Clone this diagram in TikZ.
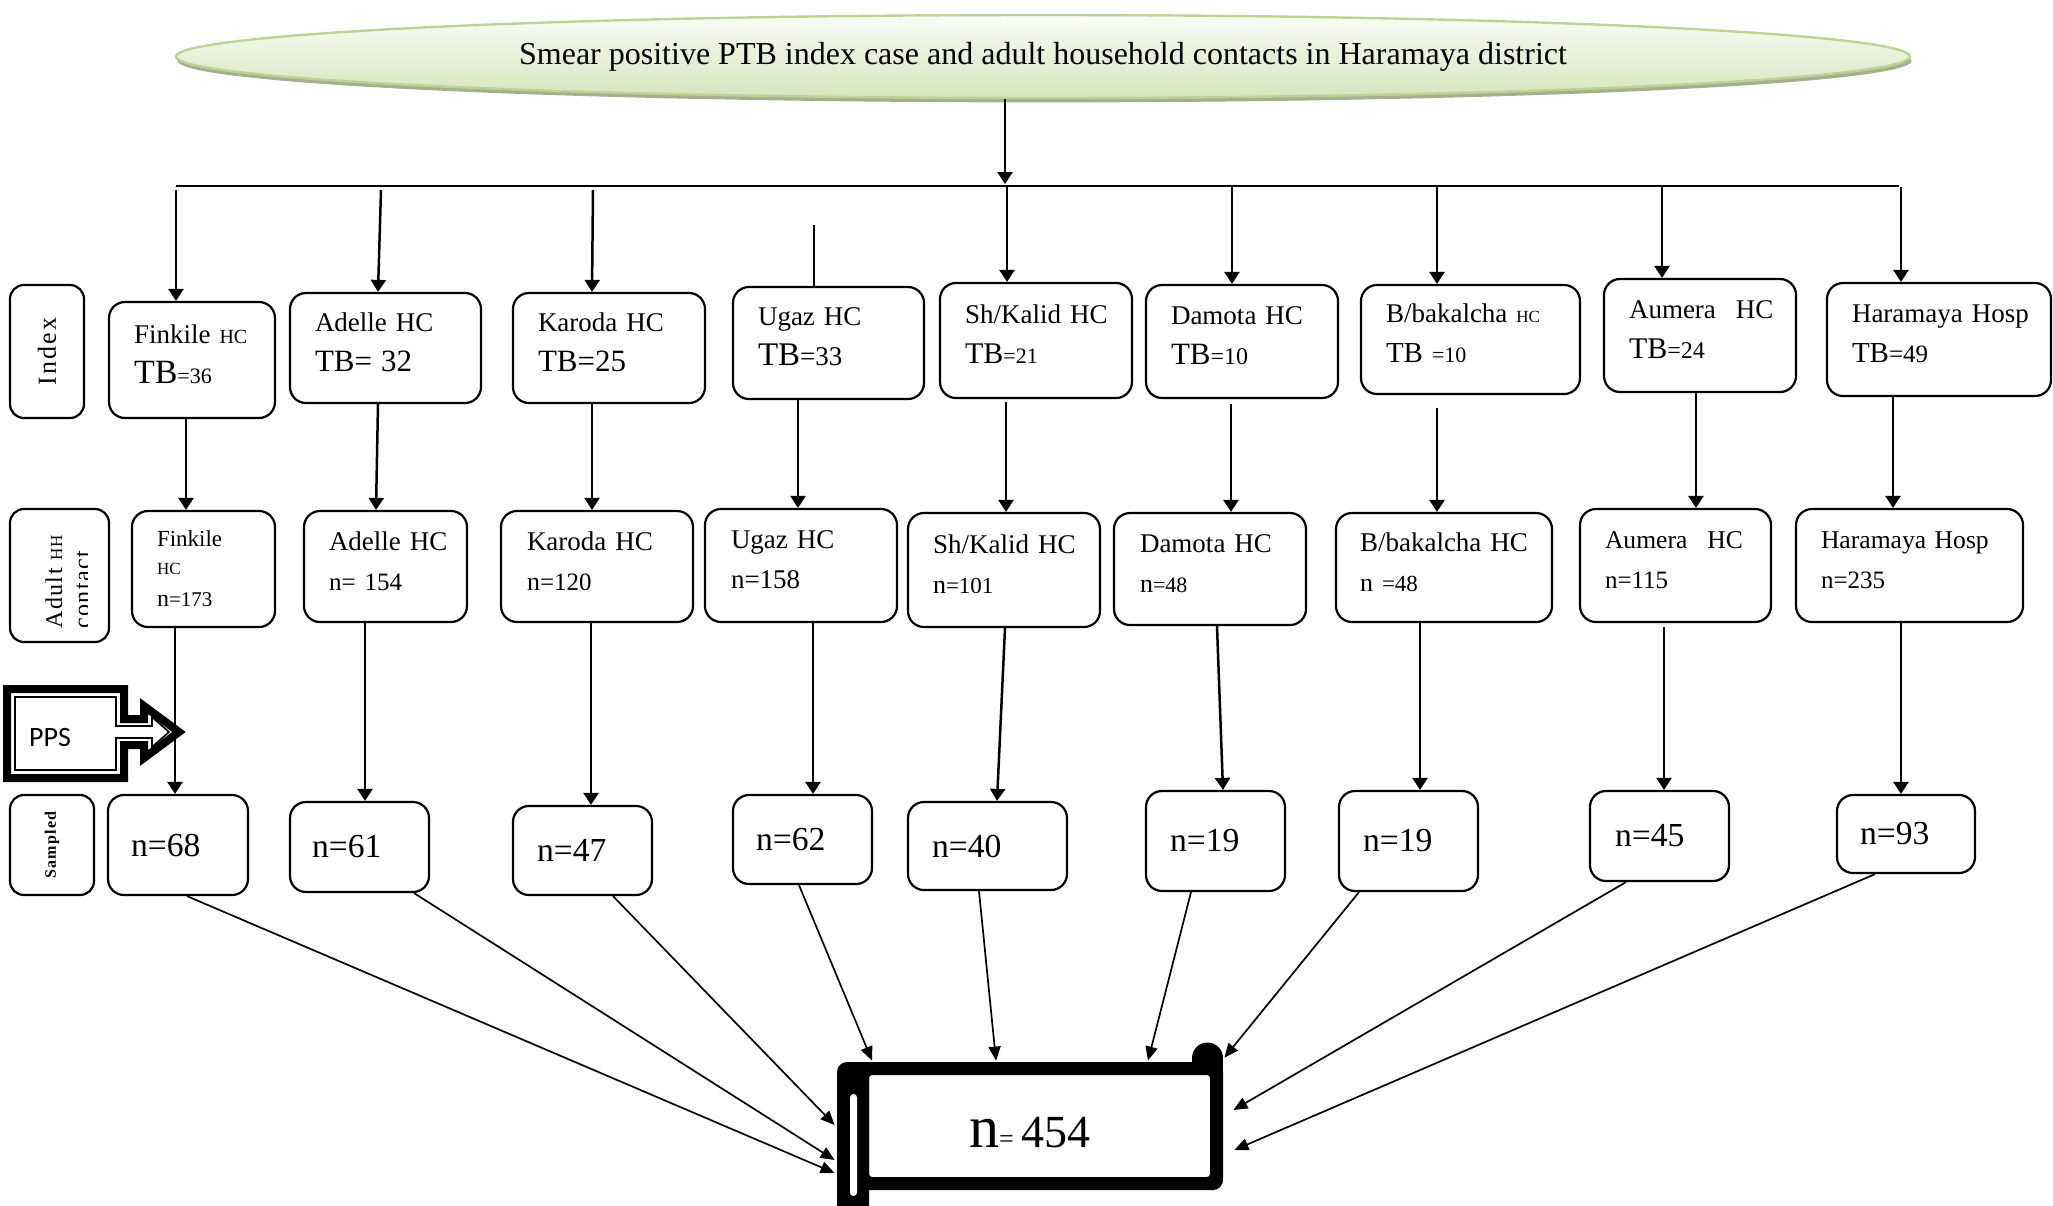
\documentclass[tikz,border=0pt]{standalone}
\usepackage{fontspec}
\setmainfont{Liberation Serif}
\newfontfamily\ppsfont{Carlito}
\usetikzlibrary{arrows.meta,shapes.geometric,shadows}
\definecolor{ellTop}{HTML}{FAFCF7}
\definecolor{ellBot}{HTML}{D6E4BB}
\definecolor{ellLine}{HTML}{BCD492}
\definecolor{ellShadow}{HTML}{A4AE90}
\newcommand\fsz[1]{\fontsize{#1}{20}\selectfont}
\begin{document}
\begin{tikzpicture}[x=0.5pt,y=-0.5pt,
  box/.style={draw, line width=1.1pt, rounded corners=8pt, align=left, inner sep=0pt, font=\fsz{13.5}},
  sbox/.style={box, font=\fsz{16.8}},
  lbl/.style={draw, line width=1.1pt, rounded corners=7pt, inner sep=0pt},
  arr/.style={line width=1.25pt, -{Triangle[length=6pt,width=7.5pt]}},
  plain/.style={line width=1.25pt},
  fan/.style={line width=0.85pt, -{Triangle[length=7pt,width=6pt]}},
]
\useasboundingbox (0,0) rectangle (2053,1206);

% title ellipse
\node[ellipse, draw=ellLine, line width=1.2pt, top color=ellTop, bottom color=ellBot,
  minimum width=867pt, minimum height=41.5pt, inner sep=0pt,
  drop shadow={shadow xshift=0.8pt, shadow yshift=-2.2pt, fill=ellShadow, opacity=1},
  font=\fsz{16}] (E) at (1043,56.5)
  {Smear positive PTB index case and adult household contacts in Haramaya district};

% row labels
\node[lbl, rotate=90, minimum width=66.5pt, minimum height=37pt,
  font=\fsz{13}\addfontfeatures{LetterSpace=8}] (Lindex) at (47,351.5) {Index};
\node[lbl, rotate=90, minimum width=66.5pt, minimum height=49.5pt] (Ladult) at (59.5,575.5) {};
\begin{scope}
\clip (10,509) rectangle (87,642);
\node[rotate=90, align=left, inner sep=0pt, font=\fontsize{12}{14}\selectfont\addfontfeatures{LetterSpace=6}]
  (Ladulttxt) at (68,582) {Adult {\fontsize{8.5}{14}\selectfont HH}\\contact};
\end{scope}
\node[lbl, rotate=90, minimum width=50pt, minimum height=42pt,
  font=\fsz{8}\bfseries\addfontfeatures{LetterSpace=8}] (Lsamp) at (52,845) {Sampled};

% index row
\begin{scope}[every node/.append style={text depth=26pt}]
\node[box, minimum width=83pt, minimum height=58pt, text width=58pt] (I1) at (192,360)
  {\mbox{Finkile \fsz{10}HC}\\\mbox{\fsz{17}TB\fsz{11}=36}};
\node[box, minimum width=95.5pt, minimum height=55pt, text width=70.5pt] (I2) at (385.5,348)
  {\mbox{Adelle HC}\\\mbox{\fsz{15.5}TB= 32}};
\node[box, minimum width=96pt, minimum height=55pt, text width=71pt] (I3) at (609,348)
  {\mbox{Karoda HC}\\\mbox{\fsz{15.5}TB=25}};
\node[box, minimum width=95.5pt, minimum height=56pt, text width=70.5pt] (I4) at (828.5,343)
  {\mbox{Ugaz HC}\\\mbox{\fsz{16.5}TB\fsz{13.5}=33}};
\node[box, minimum width=96pt, minimum height=57.5pt, text width=71pt] (I5) at (1036,340.5)
  {\mbox{Sh/Kalid HC}\\\mbox{\fsz{15}TB\fsz{11}=21}};
\node[box, minimum width=96pt, minimum height=56.5pt, text width=71pt] (I6) at (1242,341.5)
  {\mbox{Damota HC}\\\mbox{\fsz{15.5}TB\fsz{12}=10}};
\node[box, minimum width=109.5pt, minimum height=54.5pt, text width=84.5pt] (I7) at (1470.5,339.5)
  {\mbox{B/bakalcha \fsz{8.5}HC}\\\mbox{\fsz{14.5}TB \fsz{11}=10}};
\node[box, minimum width=96pt, minimum height=56.5pt, text width=71pt] (I8) at (1700,335.5)
  {\mbox{Aumera\hspace{10pt}HC}\\\mbox{\fsz{15}TB\fsz{12}=24}};
\node[box, minimum width=112pt, minimum height=56.5pt, text width=87pt] (I9) at (1939,339.5)
  {\mbox{Haramaya Hosp}\\\mbox{\fsz{14.5}TB\fsz{12.5}=49}};
\end{scope}

% adult household contact row
\node[box, minimum width=71.5pt, minimum height=58pt, text width=46.5pt] (A1) at (203.5,569)
  {\mbox{\fsz{11.5}Finkile}\\[-6pt]\mbox{\fsz{8.5}HC}\\[-4pt]\mbox{\fsz{12}n\fsz{10.5}=173}};
\begin{scope}[every node/.append style={text depth=25.5pt}]
\node[box, minimum width=81.5pt, minimum height=55.5pt, text width=56.5pt] (A2) at (385.5,566.5)
  {\mbox{Adelle HC}\\\mbox{\fsz{12.5}n= 154}};
\node[box, minimum width=96pt, minimum height=55.5pt, text width=70pt] (A3) at (597,566.5)
  {\mbox{Karoda HC}\\\mbox{\fsz{13}n\fsz{12.5}=120}};
\node[box, minimum width=96pt, minimum height=56.5pt, text width=70pt] (A4) at (801,565.5)
  {\mbox{Ugaz HC}\\\mbox{\fsz{13.5}n=158}};
\node[box, minimum width=96pt, minimum height=57pt, text width=71pt] (A5) at (1004,570)
  {\mbox{Sh/Kalid HC}\\\mbox{\fsz{13}n\fsz{11.5}=101}};
\node[box, minimum width=96pt, minimum height=56pt, text width=70pt] (A6) at (1210,569)
  {\mbox{Damota HC}\\\mbox{\fsz{13}n\fsz{11}=48}};
\node[box, minimum width=108pt, minimum height=54.5pt, text width=84pt] (A7) at (1444,567.5)
  {\mbox{B/bakalcha HC}\\\mbox{\fsz{13}n \fsz{11.5}=48}};
\node[box, minimum width=95.5pt, minimum height=56.5pt, text width=70.5pt, font=\fsz{12.8}] (A8) at (1675.5,565.5)
  {\mbox{Aumera\hspace{10pt}HC}\\\mbox{\fsz{12.5}n=115}};
\node[box, minimum width=113.5pt, minimum height=56.5pt, text width=88.5pt, font=\fsz{12.8}] (A9) at (1909.5,565.5)
  {\mbox{Haramaya Hosp}\\\mbox{\fsz{12.5}n=235}};
\end{scope}

% sampled row
\node[sbox, minimum width=70pt, minimum height=50pt, text width=47pt] (S1) at (178,845) {n=68};
\node[sbox, minimum width=69.5pt, minimum height=45pt, text width=47.5pt] (S2) at (359.5,847) {n=61};
\node[sbox, minimum width=69.5pt, minimum height=44.5pt, text width=45.5pt] (S3) at (582.5,850.5) {n=47};
\node[sbox, minimum width=69.5pt, minimum height=44.5pt, text width=46.5pt] (S4) at (802.5,839.5) {n=62};
\node[sbox, minimum width=79.5pt, minimum height=44pt, text width=55.5pt] (S5) at (987.5,846) {n=40};
\node[sbox, minimum width=69.5pt, minimum height=50pt, text width=45.5pt] (S6) at (1215.5,841) {n=19};
\node[sbox, minimum width=69.5pt, minimum height=50pt, text width=45.5pt] (S7) at (1408.5,841) {n=19};
\node[sbox, minimum width=69.5pt, minimum height=45pt, text width=44.5pt] (S8) at (1659.5,836) {n=45};
\node[sbox, minimum width=69pt, minimum height=39pt, text width=46pt] (S9) at (1906,834) {n=93};

% PPS arrow callout
\draw[line width=4pt, line join=miter, fill=white] (7,689) -- (124,689) -- (124,719) -- (144,719) -- (144,706)
  -- (179,732) -- (144,758) -- (144,745) -- (124,745) -- (124,778) -- (7,778) -- cycle;
\draw[line width=0.8pt, line join=miter] (15,697) -- (116,697) -- (116,726) -- (152,726) -- (152,717)
  -- (169,732) -- (152,747) -- (152,738) -- (116,738) -- (116,770) -- (15,770) -- cycle;
\node[font=\ppsfont\fontsize{14}{16}\selectfont, inner sep=0pt] (pps) at (50,737) {PPS};

% final scroll box
\fill[even odd rule] (837,1062) [rounded corners=5pt] rectangle (1223,1190)
  [rounded corners=1.5pt] (869,1075) rectangle (1210,1177);
\fill[rounded corners=8pt] (837,1062) rectangle (869,1222);
\fill[white, rounded corners=1.7pt] (850,1094) rectangle (857,1196);
\fill (1207.5,1058) circle[radius=15.5];
\fill (1192,1058) rectangle (1223,1070);
\node[inner sep=0pt, minimum width=193pt, minimum height=64pt] (final) at (1030,1126)
  {\raisebox{-10.5pt}[0pt][0pt]{\fsz{30}n\fsz{13}=\hspace{4pt}\fsz{23}454}};

% bus from title
\coordinate (busL) at (176,186);
\coordinate (busR) at (1899,186);
\coordinate (busT) at (1005,184);
\draw[line width=1.3pt] (busL) -- (busR);
\draw[arr] ([xshift=-19pt]E.south) -- (busT);

\coordinate (d1) at (176,190);
\coordinate (d2) at (381,190);
\coordinate (d3) at (593,190);
\coordinate (d4) at (814,225);
\coordinate (d5) at (1007,187);
\coordinate (d6) at (1232,187);
\coordinate (d7) at (1437,187);
\coordinate (d8) at (1662,187);
\coordinate (d9) at (1901,187);
\draw[arr] (d1) -- ([xshift=-8pt]I1.north);
\draw[arr] (d2) -- ([xshift=-3.75pt]I2.north);
\draw[arr] (d3) -- ([xshift=-8.5pt]I3.north);
\draw[plain] (d4) -- ([xshift=-7.25pt]I4.north);
\draw[arr] (d5) -- ([xshift=-14.5pt]I5.north);
\draw[arr] (d6) -- ([xshift=-5pt]I6.north);
\draw[arr] (d7) -- ([xshift=-16.75pt]I7.north);
\draw[arr] (d8) -- ([xshift=-19pt]I8.north);
\draw[arr] (d9) -- ([xshift=-19pt]I9.north);

% index -> adult
\draw[arr] ([xshift=-3pt]I1.south) -- ([xshift=-8.75pt]A1.north);
\draw[arr] ([xshift=-3.75pt]I2.south) -- ([xshift=-4.75pt]A2.north);
\draw[arr] ([xshift=-8.5pt]I3.south) -- ([xshift=-2.5pt]A3.north);
\draw[arr] ([xshift=-15.25pt]I4.south) -- ([xshift=-1.5pt]A4.north);
\draw[arr] ([xshift=-15pt,yshift=-1.5pt]I5.south) -- ([xshift=1pt]A5.north);
\draw[arr] ([xshift=-5.5pt,yshift=-2.5pt]I6.south) -- ([xshift=10.5pt]A6.north);
\draw[arr] ([xshift=-16.75pt,yshift=-6.5pt]I7.south) -- ([xshift=-3.5pt]A7.north);
\draw[arr] ([xshift=-2pt]I8.south) -- ([xshift=10.25pt]A8.north);
\draw[arr] ([xshift=-23pt]I9.south) -- ([xshift=-8.25pt]A9.north);

% adult -> sampled
\draw[arr] ([xshift=-14.25pt]A1.south) -- ([xshift=-1.5pt]S1.north);
\draw[arr] ([xshift=-10.25pt]A2.south) -- ([xshift=2.75pt]S2.north);
\draw[arr] ([xshift=-3pt]A3.south) -- ([xshift=4.25pt]S3.north);
\draw[arr] ([xshift=6pt]A4.south) -- ([xshift=5.25pt]S4.north);
\draw[arr] ([xshift=0.5pt]A5.south) -- ([xshift=4.75pt]S5.north);
\draw[arr] ([xshift=3.5pt]A6.south) -- ([xshift=3.75pt]S6.north);
\draw[arr] ([xshift=-12pt]A7.south) -- ([xshift=5.75pt]S7.north);
\draw[arr] ([xshift=-5.75pt,yshift=-2pt]A8.south) -- ([xshift=2.25pt]S8.north);
\draw[arr] ([xshift=-4.25pt]A9.south) -- ([xshift=-2.5pt]S9.north);

% sampled -> final
\draw[fan] ([xshift=4.5pt]S1.south) -- ([xshift=-1pt,yshift=-23.5pt]final.west);
\draw[fan] ([xshift=27.25pt]S2.south) -- ([xshift=-1pt,yshift=-17pt]final.west);
\draw[fan] ([xshift=15.25pt]S3.south) -- ([xshift=-1pt,yshift=0.5pt]final.west);
\draw[fan] ([xshift=-1.75pt]S4.south) -- ([xshift=-79pt,yshift=0.5pt]final.north);
\draw[fan] ([xshift=-4.25pt]S5.south) -- ([xshift=-17pt,yshift=0.5pt]final.north);
\draw[fan] ([xshift=-12.25pt]S6.south) -- ([xshift=59pt,yshift=0.5pt]final.north);
\draw[fan] ([xshift=-24.75pt]S7.south) -- ([xshift=0.5pt,yshift=2pt]final.north east);
\draw[fan] ([xshift=-16.75pt]S8.south) -- ([xshift=5pt,yshift=8pt]final.east);
\draw[fan] ([xshift=-15.5pt]S9.south) -- ([xshift=5.5pt,yshift=-12pt]final.east);
\end{tikzpicture}
\end{document}
